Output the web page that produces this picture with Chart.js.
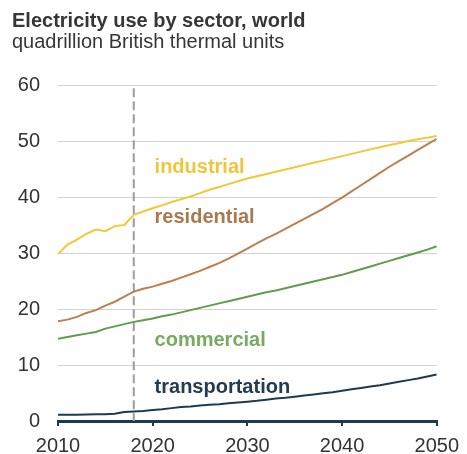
<!DOCTYPE html>
<html>
<head>
<meta charset="utf-8">
<script src="https://cdn.jsdelivr.net/npm/chart.js@4.4.1/dist/chart.umd.min.js"></script>
<style>
  body { margin: 0; background: #fff; }
  #wrap { position: relative; width: 467px; height: 454px; }
  #chart { position: absolute; left: 0; top: 0; }
  .title { position: absolute; left: 12px; top: 10px; font: bold 20px "Liberation Sans", Arial, sans-serif; line-height: 20px; color: #363636; white-space: nowrap; }
  .subtitle { position: absolute; left: 12px; top: 31px; font: 20px "Liberation Sans", Arial, sans-serif; line-height: 20px; color: #363636; white-space: nowrap; }
</style>
</head>
<body>
<div id="wrap">
  <canvas id="chart" width="467" height="454"></canvas>
  <div class="title">Electricity use by sector, world</div>
  <div class="subtitle">quadrillion British thermal units</div>
</div>
<script>
// years on the x axis
const years = [2010, 2011, 2012, 2013, 2014, 2015, 2016, 2017, 2018, 2019,
  2020, 2021, 2022, 2023, 2024, 2025, 2026, 2027, 2028, 2029,
  2030, 2031, 2032, 2033, 2034, 2035, 2036, 2037, 2038, 2039,
  2040, 2041, 2042, 2043, 2044, 2045, 2046, 2047, 2048, 2049, 2050];

// quadrillion Btu
const industrial = [29.8, 31.5, 32.4, 33.4, 34.2, 33.9, 34.8, 35.0, 36.8, 37.4,
  38.0, 38.5, 39.1, 39.6, 40.1, 40.7, 41.3, 41.8, 42.3, 42.8,
  43.3, 43.7, 44.1, 44.5, 44.9, 45.3, 45.7, 46.1, 46.5, 46.9,
  47.3, 47.7, 48.1, 48.5, 48.9, 49.3, 49.6, 50.0, 50.3, 50.6, 50.9];
const residential = [17.8, 18.1, 18.6, 19.3, 19.8, 20.6, 21.3, 22.2, 23.1, 23.6,
  24.0, 24.5, 25.0, 25.6, 26.2, 26.8, 27.5, 28.2, 29.0, 29.9,
  30.8, 31.7, 32.6, 33.4, 34.3, 35.2, 36.1, 37.0, 37.9, 38.9,
  39.9, 41.0, 42.1, 43.2, 44.3, 45.4, 46.4, 47.4, 48.4, 49.4, 50.4];
const commercial = [14.7, 15.0, 15.3, 15.6, 15.9, 16.5, 16.9, 17.3, 17.7, 18.0,
  18.3, 18.7, 19.0, 19.4, 19.8, 20.2, 20.6, 21.0, 21.4, 21.8,
  22.2, 22.6, 23.0, 23.3, 23.7, 24.1, 24.5, 24.9, 25.3, 25.7,
  26.1, 26.6, 27.1, 27.6, 28.1, 28.6, 29.1, 29.6, 30.1, 30.6, 31.2];
const transportation = [1.1, 1.1, 1.1, 1.15, 1.2, 1.2, 1.3, 1.6, 1.7, 1.8,
  1.95, 2.1, 2.3, 2.5, 2.6, 2.75, 2.9, 3.0, 3.15, 3.3,
  3.45, 3.6, 3.8, 4.0, 4.15, 4.35, 4.55, 4.75, 4.95, 5.15,
  5.4, 5.65, 5.9, 6.15, 6.4, 6.7, 7.0, 7.3, 7.6, 7.95, 8.3];

const yTicks = [0, 10, 20, 30, 40, 50, 60];
const xTicks = [2010, 2020, 2030, 2040, 2050];
const historyEnd = 2018;

// label text, anchor (year, value) and colour
const seriesLabels = [
  { text: "industrial", x: 2020.2, y: 44.3, color: "#efc53c" },
  { text: "residential", x: 2020.2, y: 35.4, color: "#a8784e" },
  { text: "commercial", x: 2020.2, y: 13.4, color: "#78aa60" },
  { text: "transportation", x: 2020.2, y: 5.0, color: "#223c52" },
];

const toPoints = (vals) => years.map((yr, i) => ({ x: yr, y: vals[i] }));

const FONT = '"Liberation Sans", Arial, sans-serif';

// dashed line marking the last history year
const dividerPlugin = {
  id: "divider",
  beforeDatasetsDraw(chart) {
    const { ctx, scales } = chart;
    const x = scales.x.getPixelForValue(historyEnd);
    ctx.save();
    ctx.strokeStyle = "#9c9c9c";
    ctx.lineWidth = 2;
    ctx.setLineDash([9, 4]);
    ctx.beginPath();
    ctx.moveTo(x, scales.y.getPixelForValue(59.4));
    ctx.lineTo(x, scales.y.getPixelForValue(0));
    ctx.stroke();
    ctx.restore();
  },
};

// inline series names
const labelPlugin = {
  id: "seriesLabels",
  afterDatasetsDraw(chart) {
    const { ctx, scales } = chart;
    ctx.save();
    ctx.font = "bold 20px " + FONT;
    ctx.textAlign = "left";
    ctx.textBaseline = "alphabetic";
    seriesLabels.forEach((l) => {
      ctx.fillStyle = l.color;
      ctx.fillText(l.text, scales.x.getPixelForValue(l.x), scales.y.getPixelForValue(l.y));
    });
    ctx.restore();
  },
};

const line = (label, vals, color) => ({
  label,
  data: toPoints(vals),
  borderColor: color,
  borderWidth: 2,
  pointRadius: 0,
  tension: 0,
  fill: false,
});

new Chart(document.getElementById("chart"), {
  type: "line",
  data: {
    datasets: [
      line("transportation", transportation, "#1c3a50"),
      line("commercial", commercial, "#5f9d4c"),
      line("residential", residential, "#bd7f4d"),
      line("industrial", industrial, "#f2c838"),
    ],
  },
  options: {
    responsive: false,
    animation: false,
    devicePixelRatio: 1,
    layout: { padding: { top: 85, right: 25, left: 0, bottom: 0 } },
    plugins: {
      legend: { display: false },
      tooltip: { enabled: false },
    },
    scales: {
      x: {
        type: "linear",
        min: 2010,
        max: 2050,
        afterBuildTicks: (s) => { s.ticks = xTicks.map((v) => ({ value: v })); },
        afterFit: (s) => { s.height = 33; },
        ticks: {
          callback: (v) => String(v),
          font: { family: FONT, size: 20 },
          color: "#333",
          padding: 8,
          maxRotation: 0,
        },
        grid: {
          drawOnChartArea: false,
          drawTicks: true,
          tickLength: 5,
          lineWidth: 2,
          color: "#1c3a50",
        },
        border: { display: true, color: "#1c3a50", width: 3 },
      },
      y: {
        min: 0,
        max: 60,
        afterBuildTicks: (s) => { s.ticks = yTicks.map((v) => ({ value: v })); },
        afterFit: (s) => { s.width = 58; },
        ticks: {
          font: { family: FONT, size: 20 },
          color: "#333",
          padding: 18,
        },
        grid: { color: "#d2d2d2", lineWidth: 1, drawTicks: false },
        border: { display: false },
      },
    },
  },
  plugins: [dividerPlugin, labelPlugin],
});
</script>
</body>
</html>
